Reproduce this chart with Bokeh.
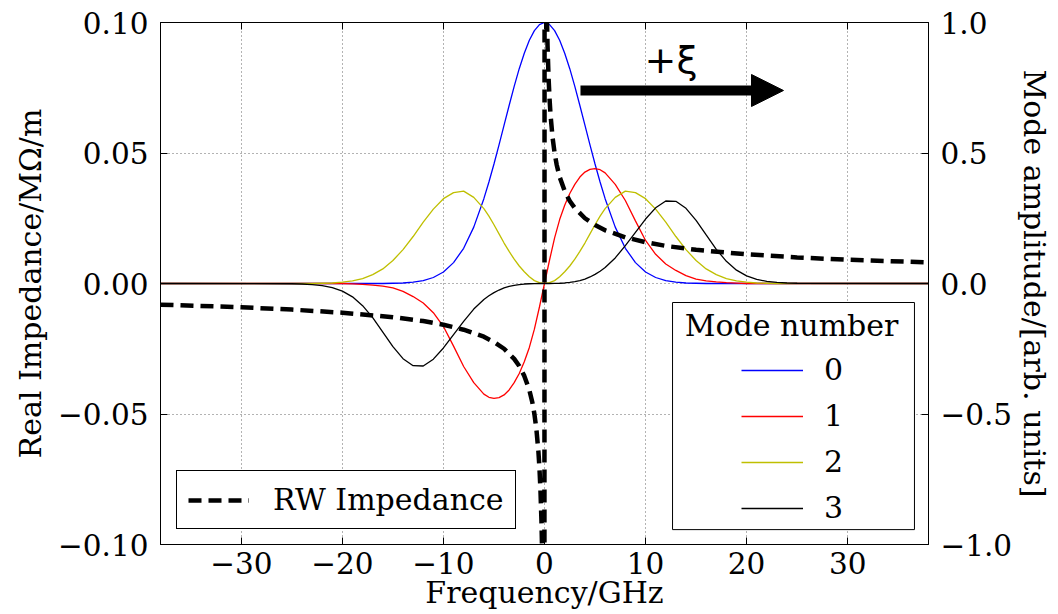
from bokeh.plotting import figure
from bokeh.models import (Range1d, LinearAxis, FixedTicker, CustomJSTickFormatter, Legend,
                          LegendItem, Arrow, NormalHead, Label, BoxAnnotation)
from bokeh.embed import file_html
from bokeh.resources import INLINE

# ---------------- data ----------------
freq = [-38, -25, -24, -23, -22, -21, -20, -19, -18, -17, -16, -15, -14, -13, -12, -11, -10, -9, -8, -7,
        -6, -5.5, -5, -4.5, -4, -3.5, -3, -2.5, -2, -1.5, -1, -0.5, 0, 0.5, 1, 1.5, 2, 2.5, 3, 3.5, 4,
        4.5, 5, 5.5, 6, 7, 8, 9, 10, 11, 12, 13, 14, 15, 16, 17, 18, 19, 20, 21, 22, 23, 24, 25, 38]

mode0 = [0, 0, 0, 0, 0, 0, 0, 0, 0, 0, 0, 0.001, 0.002, 0.005, 0.011, 0.023, 0.044, 0.080, 0.135, 0.216,
         0.325, 0.389, 0.458, 0.531, 0.607, 0.682, 0.755, 0.823, 0.882, 0.932, 0.969, 0.992, 1.0,
         0.992, 0.969, 0.932, 0.882, 0.823, 0.755, 0.682, 0.607, 0.531, 0.458, 0.389, 0.325,
         0.216, 0.135, 0.080, 0.044, 0.023, 0.011, 0.005, 0.002, 0.001, 0, 0, 0, 0, 0, 0, 0, 0, 0, 0, 0]

mode1 = [0, 0, 0, 0, 0, 0, 0, -0.0015, -0.003, -0.006, -0.01, -0.017, -0.03, -0.05, -0.075, -0.112,
         -0.165, -0.24, -0.318, -0.38, -0.424, -0.436, -0.44, -0.437, -0.427, -0.408, -0.38, -0.345,
         -0.30, -0.245, -0.175, -0.09, 0.0,
         0.09, 0.175, 0.245, 0.30, 0.345, 0.38, 0.408, 0.427, 0.437, 0.44, 0.436, 0.424,
         0.38, 0.318, 0.24, 0.165, 0.112, 0.075, 0.05, 0.03, 0.017, 0.01, 0.006, 0.003, 0.0015, 0,
         0, 0, 0, 0, 0, 0]

mode2 = [0, 0, 0, 0, 0.001, 0.002, 0.005, 0.01, 0.019, 0.034, 0.056, 0.088, 0.13, 0.18, 0.235, 0.285,
         0.325, 0.348, 0.354, 0.33, 0.287, 0.258, 0.225, 0.19, 0.155, 0.123, 0.093, 0.067, 0.045,
         0.026, 0.011, 0.003, 0.0,
         0.003, 0.011, 0.026, 0.045, 0.067, 0.093, 0.123, 0.155, 0.19, 0.225, 0.258, 0.287,
         0.33, 0.354, 0.348, 0.325, 0.285, 0.235, 0.18, 0.13, 0.088, 0.056, 0.034, 0.019, 0.01,
         0.005, 0.002, 0.001, 0, 0, 0, 0]

mode3 = [0, -0.001, -0.002, -0.004, -0.008, -0.016, -0.029, -0.051, -0.085, -0.131, -0.186, -0.242,
         -0.288, -0.315, -0.316, -0.29, -0.247, -0.196, -0.145, -0.098, -0.061, -0.047, -0.035,
         -0.025, -0.017, -0.011, -0.007, -0.004, -0.002, -0.001, -0.0003, 0.0, 0.0,
         0.0, 0.0003, 0.001, 0.002, 0.004, 0.007, 0.011, 0.017, 0.025, 0.035, 0.047, 0.061,
         0.098, 0.145, 0.196, 0.247, 0.29, 0.316, 0.315, 0.288, 0.242, 0.186, 0.131, 0.085, 0.051,
         0.029, 0.016, 0.008, 0.004, 0.002, 0.001, 0]

rw_freq = [-38, -30, -25, -20, -15, -12, -10, -8, -6, -5, -4, -3, -2.5, -2, -1.5, -1.2, -1, -0.8, -0.6,
           -0.5, -0.4, -0.3, -0.25, -0.02, 0.02, 0.25, 0.3, 0.4, 0.5, 0.6, 0.8, 1, 1.2, 1.5, 2, 2.5, 3,
           4, 5, 6, 8, 10, 12, 15, 20, 25, 30, 38]
rw_imp = [-0.0081, -0.0091, -0.0100, -0.0112, -0.0129, -0.0144, -0.0158, -0.0177, -0.0204, -0.0224,
          -0.0250, -0.0289, -0.0316, -0.0354, -0.0408, -0.0456, -0.0500, -0.0559, -0.0645, -0.0707,
          -0.0791, -0.0913, -0.1000, -0.3536, 0.3536, 0.1000, 0.0913, 0.0791, 0.0707, 0.0645, 0.0559,
          0.0500, 0.0456, 0.0408, 0.0354, 0.0316, 0.0289, 0.0250, 0.0224, 0.0204, 0.0177, 0.0158,
          0.0144, 0.0129, 0.0112, 0.0100, 0.0091, 0.0081]

mode_labels = ["0", "1", "2", "3"]
mode_colors = ["#0000ff", "#ff0000", "#bfbf00", "#000000"]
x_ticks = [-30, -20, -10, 0, 10, 20, 30]
left_ticks = [-0.1, -0.05, 0, 0.05, 0.1]
right_ticks = [-1.0, -0.5, 0, 0.5, 1.0]

SERIF = "DejaVu Serif"
TICK_FS = "29.5px"
LABEL_FS = "30px"
LEG_FS = "30px"

p = figure(width=1058, height=614, x_range=Range1d(-38, 38), y_range=Range1d(-0.1, 0.1),
           output_backend="svg", toolbar_location=None,
           min_border_left=160, min_border_right=130, min_border_top=22, min_border_bottom=70)
p.extra_y_ranges = {"amp": Range1d(-1, 1)}
p.background_fill_color = "white"
p.border_fill_color = "white"
p.outline_line_color = "black"
p.outline_line_width = 1

bottom_axis = p.below[0]
left_axis = p.left[0]
right_axis = LinearAxis(y_range_name="amp", axis_label="Mode amplitude/[arb. units]")
p.add_layout(right_axis, "right")
top_axis = LinearAxis()
p.add_layout(top_axis, "above")

def style_axis(ax, ticks, code, standoff):
    ax.ticker = FixedTicker(ticks=ticks)
    ax.formatter = CustomJSTickFormatter(code=code)
    ax.major_label_text_font = SERIF
    ax.major_label_text_font_size = TICK_FS
    ax.major_label_text_color = "black"
    ax.axis_label_text_font = SERIF
    ax.axis_label_text_font_size = LABEL_FS
    ax.axis_label_text_font_style = "normal"
    ax.axis_label_text_color = "black"
    ax.major_tick_in = 7
    ax.major_tick_out = 0
    ax.major_tick_line_color = "black"
    ax.minor_tick_line_color = None
    ax.axis_line_color = "black"
    ax.major_label_standoff = standoff

style_axis(bottom_axis, x_ticks, "return (tick < 0 ? '−' : '') + Math.abs(tick).toFixed(0);", 7)
style_axis(left_axis, left_ticks, "return (tick < 0 ? '−' : '') + Math.abs(tick).toFixed(2);", 12)
style_axis(right_axis, right_ticks, "return (tick < 0 ? '−' : '') + Math.abs(tick).toFixed(1);", 12)
style_axis(top_axis, x_ticks, "return '';", 0)
top_axis.major_label_text_font_size = "0px"

bottom_axis.axis_label = "Frequency/GHz"
bottom_axis.axis_label_standoff = -2
left_axis.axis_label = "Real Impedance/MΩ/m"
left_axis.axis_label_standoff = 7
right_axis.axis_label_standoff = 2

for g in (p.xgrid[0], p.ygrid[0]):
    g.grid_line_color = "black"
    g.grid_line_alpha = 0.6
    g.grid_line_dash = "1 3"
    g.grid_line_width = 1

# ---------------- curves ----------------
mode_series = [mode0, mode1, mode2, mode3]
mode_renderers = []
for vals, col in zip(mode_series, mode_colors):
    r = p.line(freq, vals, line_color=col, line_width=1.3, y_range_name="amp")
    mode_renderers.append(r)

rw = p.line(rw_freq, rw_imp, line_color="black", line_width=4.5, line_dash="13 7")

# ---------------- arrow and xi ----------------
p.add_layout(Arrow(end=NormalHead(size=32, fill_color="black", line_color="black", line_width=1),
                   x_start=3.56, y_start=0.7395, x_end=23.65, y_end=0.7395,
                   line_width=10, line_color="black", y_range_name="amp"))
p.add_layout(Label(x=9.9, y=0.855, text="+ξ", y_range_name="amp", text_font="DejaVu Sans",
                   text_font_size="38px", text_baseline="alphabetic", text_color="black"))

# ---------------- legends ----------------
rw_legend = Legend(items=[LegendItem(label="RW Impedance", renderers=[rw])], location=(16, 15),
                   padding=11, spacing=0, margin=0, glyph_width=61, glyph_height=34,
                   label_height=34, label_standoff=24, label_text_font=SERIF, label_text_font_size=LEG_FS,
                   label_text_color="black",
                   border_line_color="black", border_line_width=1, border_line_alpha=1,
                   background_fill_color="white", background_fill_alpha=1)
p.add_layout(rw_legend)

p.add_layout(BoxAnnotation(left=12.67, right=36.61, top=-0.00728, bottom=-0.0943,
                           fill_color="white", fill_alpha=1, line_color="black", line_width=1,
                           line_alpha=1))
mode_legend = Legend(items=[LegendItem(label=lab, renderers=[r]) for lab, r in zip(mode_labels, mode_renderers)],
                     location=(581, 19), padding=0, spacing=11, margin=0, glyph_width=62,
                     glyph_height=34, label_height=34, label_standoff=21, label_text_font=SERIF,
                     label_text_font_size=LEG_FS, label_text_color="black",
                     border_line_alpha=0, background_fill_alpha=0)
p.add_layout(mode_legend)
p.add_layout(Label(x=24.45, y=-0.0161, text="Mode number", text_align="center",
                   text_baseline="alphabetic", text_font=SERIF, text_font_size=LEG_FS, text_color="black"))

open("out.html", "w").write(file_html(p, INLINE))
